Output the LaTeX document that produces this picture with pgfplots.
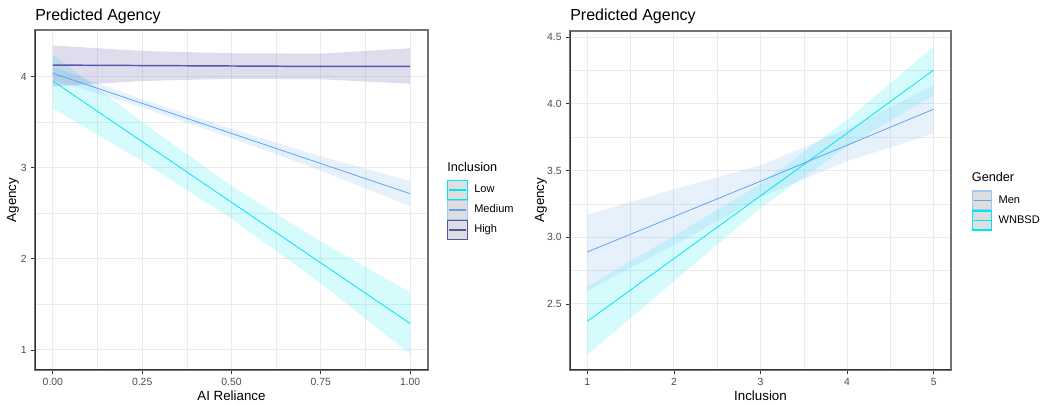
\documentclass[border=0pt]{standalone}
\usepackage{fontspec}
\setmainfont{Liberation Sans}
\usepackage{pgfplots}
\usepackage{pgfplotstable}
\pgfplotsset{compat=1.18}
\usepgfplotslibrary{fillbetween}

\definecolor{cLow}{HTML}{00E5EE}
\definecolor{cMed}{HTML}{5CA4EE}
\definecolor{cHigh}{HTML}{5657AB}
\definecolor{gridc}{HTML}{EBEBEB}
\definecolor{tickc}{HTML}{4D4D4D}
\definecolor{keyfill}{HTML}{DEDEDE}

% left panel: Agency vs AI Reliance, by Inclusion
\pgfplotstableread{
x    y     lo    hi
0    3.950 3.650 4.240
0.25 3.285 3.070 3.500
0.5  2.620 2.440 2.800
0.75 1.955 1.730 2.190
1    1.290 0.956 1.633
}\lowtab
\pgfplotstableread{
x    y     lo    hi
0    4.035 3.965 4.105
0.25 3.705 3.660 3.750
0.5  3.375 3.325 3.425
0.75 3.045 2.965 3.125
1    2.714 2.578 2.853
}\medtab
\pgfplotstableread{
x    y     lo    hi
0    4.125 3.890 4.340
0.25 4.120 3.950 4.280
0.5  4.115 3.975 4.255
0.75 4.110 3.970 4.250
1    4.110 3.920 4.310
}\hightab

% right panel: Agency vs Inclusion, by Gender
\pgfplotstableread{
x y     lo    hi
1 2.890 2.600 3.168
2 3.155 2.940 3.360
3 3.420 3.300 3.540
4 3.690 3.570 3.810
5 3.960 3.778 4.140
}\mentab
\pgfplotstableread{
x y     lo    hi
1 2.370 2.120 2.630
2 2.840 2.670 3.010
3 3.310 3.220 3.400
4 3.780 3.680 3.880
5 4.254 4.066 4.430
}\wntab

\pgfplotsset{
  gg/.style={
    scale only axis,
    anchor=south west,
    grid=both,
    major grid style={draw=gridc, line width=0.8pt},
    minor grid style={draw=gridc, line width=0.45pt},
    minor x tick num=1, minor y tick num=1,
    tick align=outside, xtick pos=left, ytick pos=left,
    major tick length=2.8pt, minor tick length=0pt,
    tick style={draw=black!80, line width=0.6pt},
    axis line style={draw=black!55, line width=0.8pt},
    tick label style={font=\fontsize{7.8}{9}\selectfont, text=tickc},
    /pgf/number format/assume math mode=true,
  }
}

\begin{document}
\begin{tikzpicture}

\begin{axis}[gg, at={(26.25pt,27pt)}, width=294.75pt, height=255pt,
  xmin=-0.05, xmax=1.05, ymin=0.78, ymax=4.51,
  xtick={0,0.25,0.5,0.75,1}, xticklabels={0.00,0.25,0.50,0.75,1.00},
  ytick={1,2,3,4}]
  \addplot[draw=none, name path=lh] table[x=x,y=hi]{\lowtab};
  \addplot[draw=none, name path=ll] table[x=x,y=lo]{\lowtab};
  \addplot[fill=cLow, fill opacity=0.16, draw=none] fill between[of=lh and ll];
  \addplot[draw=none, name path=mh] table[x=x,y=hi]{\medtab};
  \addplot[draw=none, name path=ml] table[x=x,y=lo]{\medtab};
  \addplot[fill=cMed, fill opacity=0.15, draw=none] fill between[of=mh and ml];
  \addplot[draw=none, name path=hh] table[x=x,y=hi]{\hightab};
  \addplot[draw=none, name path=hl] table[x=x,y=lo]{\hightab};
  \addplot[fill=cHigh, fill opacity=0.2, draw=none] fill between[of=hh and hl];
  \addplot[cLow, line width=0.6pt] table[x=x,y=y]{\lowtab};
  \addplot[cMed, line width=0.6pt] table[x=x,y=y]{\medtab};
  \addplot[cHigh, line width=1.1pt] table[x=x,y=y]{\hightab};
  \draw[black!80, line width=0.8pt] (rel axis cs:0,1) -- (rel axis cs:0,0) -- (rel axis cs:1,0);
\end{axis}

\begin{axis}[gg, at={(427.5pt,27pt)}, width=285.75pt, height=254.25pt,
  xmin=0.8, xmax=5.2, ymin=2.005, ymax=4.546,
  xtick={1,2,3,4,5},
  ytick={2.5,3,3.5,4,4.5}, yticklabels={2.5,3.0,3.5,4.0,4.5}]
  \addplot[draw=none, name path=wh] table[x=x,y=hi]{\wntab};
  \addplot[draw=none, name path=wl] table[x=x,y=lo]{\wntab};
  \addplot[fill=cLow, fill opacity=0.16, draw=none] fill between[of=wh and wl];
  \addplot[draw=none, name path=nh] table[x=x,y=hi]{\mentab};
  \addplot[draw=none, name path=nl] table[x=x,y=lo]{\mentab};
  \addplot[fill=cMed, fill opacity=0.15, draw=none] fill between[of=nh and nl];
  \addplot[cLow, line width=0.6pt] table[x=x,y=y]{\wntab};
  \addplot[cMed, line width=0.6pt] table[x=x,y=y]{\mentab};
  \draw[black!80, line width=0.8pt] (rel axis cs:0,1) -- (rel axis cs:0,0) -- (rel axis cs:1,0);
\end{axis}

\begin{scope}[x=0.75pt, y=0.75pt]
  % titles
  \node[anchor=base west, inner sep=0, font=\fontsize{12}{14}\selectfont] at (35,385.3) {Predicted Agency};
  \node[anchor=base west, inner sep=0, font=\fontsize{12}{14}\selectfont] at (570,385.3) {Predicted Agency};
  % axis titles
  \node[anchor=base, inner sep=0, font=\fontsize{10}{12}\selectfont] at (231.5,5.5) {AI Reliance};
  \node[anchor=base, inner sep=0, font=\fontsize{10}{12}\selectfont] at (760.5,5.5) {Inclusion};
  \node[rotate=90, inner sep=0, font=\fontsize{10}{12}\selectfont] at (13,206) {Agency};
  \node[rotate=90, inner sep=0, font=\fontsize{10}{12}\selectfont] at (541,206) {Agency};
  % legend: Inclusion
  \node[anchor=base west, inner sep=0, font=\fontsize{9.5}{11}\selectfont] at (447,234.3) {Inclusion};
  \filldraw[fill=keyfill, draw=cLow, line width=0.8pt] (447.5,206.5) rectangle (467.5,225.5);
  \draw[cLow, line width=0.8pt] (449,216) -- (466,216);
  \filldraw[fill=keyfill, draw=cMed!60, line width=0.8pt] (447.5,186.5) rectangle (467.5,205.5);
  \draw[cMed, line width=0.8pt] (449,196) -- (466,196);
  \filldraw[fill=keyfill, draw=cHigh, line width=0.8pt] (447.5,166.5) rectangle (467.5,185.5);
  \draw[cHigh, line width=1.1pt] (449,176) -- (466,176);
  \node[anchor=base west, inner sep=0, font=\fontsize{8.3}{10}\selectfont] at (474,213) {Low};
  \node[anchor=base west, inner sep=0, font=\fontsize{8.3}{10}\selectfont] at (474,193) {Medium};
  \node[anchor=base west, inner sep=0, font=\fontsize{8.3}{10}\selectfont] at (474,173) {High};
  % legend: Gender
  \node[anchor=base west, inner sep=0, font=\fontsize{9.5}{11}\selectfont] at (971.7,224) {Gender};
  \filldraw[fill=keyfill, draw=cMed!60, line width=0.8pt] (972.2,196) rectangle (991.7,215);
  \draw[cMed, line width=0.8pt] (973.5,205.6) -- (990.5,205.6);
  \filldraw[fill=keyfill, draw=cLow, line width=0.8pt] (972.2,176) rectangle (991.7,195);
  \draw[cLow, line width=0.8pt] (973.5,185.7) -- (990.5,185.7);
  \node[anchor=base west, inner sep=0, font=\fontsize{8.3}{10}\selectfont] at (998.3,202.6) {Men};
  \node[anchor=base west, inner sep=0, font=\fontsize{8.3}{10}\selectfont] at (998.3,182.7) {WNBSD};
\end{scope}
\pgfresetboundingbox
\useasboundingbox (0,0) rectangle (785.25pt,304.5pt);
\end{tikzpicture}
\end{document}
